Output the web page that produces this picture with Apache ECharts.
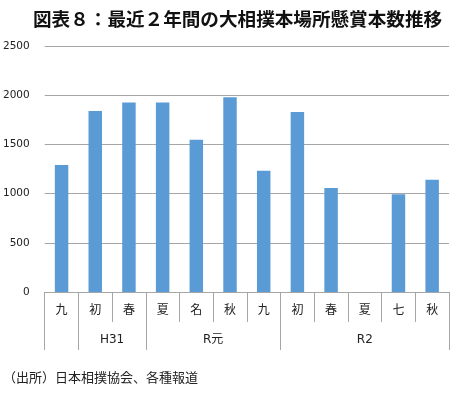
<!DOCTYPE html>
<html><head><meta charset="utf-8">
<script src="https://cdn.jsdelivr.net/npm/echarts@6/dist/echarts.min.js"></script>
<style>html,body{margin:0;padding:0;background:#fff}#c{width:460px;height:393px}</style>
</head><body><div id="c"></div>
<script>
const titleText = '図表８：最近２年間の大相撲本場所懸賞本数推移';
const sourceText = '（出所）日本相撲協会、各種報道';
const categories = ['九', '初', '春', '夏', '名', '秋', '九', '初', '春', '夏', '七', '秋'];
const values = [1290, 1839, 1927, 1927, 1547, 1978, 1231, 1829, 1058, null, 994, 1140];
const groupLabels = ['H31', 'R元', 'R2'];
const groupBounds = [0, 1, 3, 7, 12];   // category-boundary indices of the group dividers
const groupCenters = [2, 5, 9.5];       // centre of each labelled group, in category units
const yTicks = [0, 500, 1000, 1500, 2000, 2500];

const chart = echarts.init(document.getElementById('c'));
const font = "'DejaVu Sans', 'Noto Sans CJK JP', sans-serif";
const gridColor = '#a6a6a6';
chart.setOption({
  animation: false,
  title: {
    text: titleText, left: 28, top: 5,
    textStyle: { fontFamily: "'Noto Sans CJK JP', sans-serif", fontWeight: 'bold', fontSize: 18.6, color: '#111' }
  },
  graphic: [{
    type: 'text', left: 3, top: 371,
    style: { text: sourceText, font: "13px 'Noto Sans CJK JP', sans-serif", fill: '#222' }
  }],
  grid: { left: 42, right: 11, top: 46, bottom: 101 },
  xAxis: [{
    type: 'category', data: categories, position: 'bottom',
    axisLine: { lineStyle: { color: gridColor, width: 1 } },
    axisTick: { show: true, interval: 0, length: 30, lineStyle: { color: gridColor } },
    axisLabel: { interval: 0, margin: 13, fontSize: 12, color: '#222', fontFamily: font }
  }, {
    type: 'value', min: 0, max: 12, position: 'bottom', offset: 30,
    splitLine: { show: false },
    axisLine: { show: false },
    axisTick: { show: true, customValues: groupBounds, length: 28, lineStyle: { color: gridColor } },
    axisLabel: {
      customValues: groupCenters, margin: 12, fontSize: 12, color: '#222', fontFamily: font,
      formatter: v => groupLabels[groupCenters.indexOf(v)]
    }
  }],
  yAxis: {
    type: 'value', min: yTicks[0], max: yTicks[yTicks.length - 1], interval: 500,
    axisLine: { show: false }, axisTick: { show: false },
    axisLabel: { margin: 15, fontSize: 10.5, color: '#222', fontFamily: font, formatter: v => String(v) },
    splitLine: { lineStyle: { color: gridColor, width: 1 } }
  },
  series: [{
    type: 'bar', data: values, xAxisIndex: 0, barWidth: '40%',
    itemStyle: { color: '#5b9bd5' }
  }]
});
</script></body></html>
